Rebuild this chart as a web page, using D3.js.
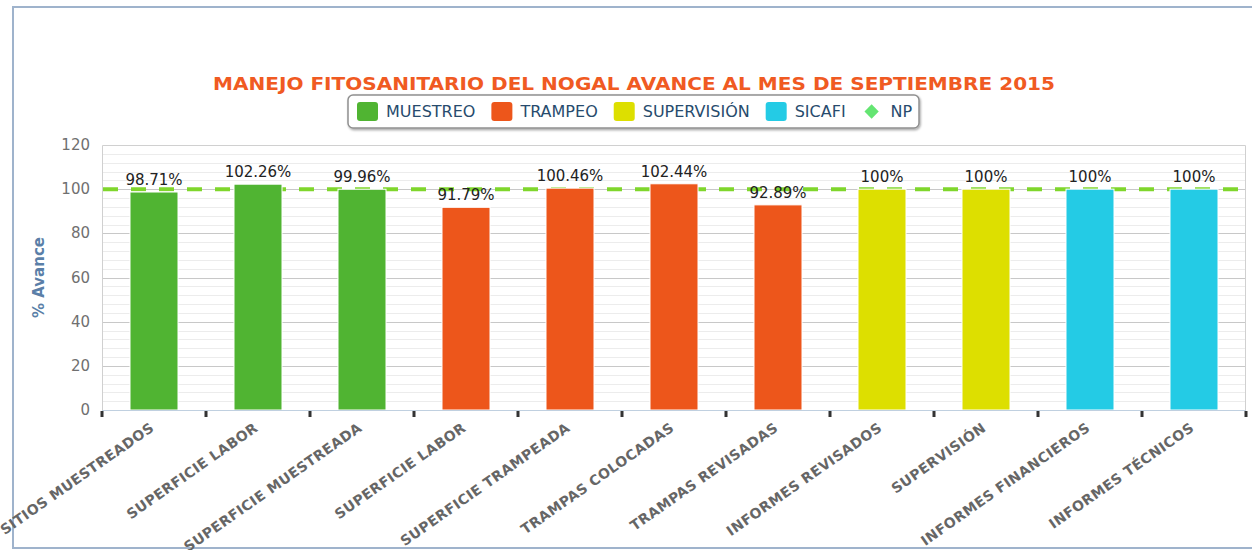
<!DOCTYPE html>
<html>
<head>
<meta charset="utf-8">
<script src="https://cdn.jsdelivr.net/npm/d3@7"></script>
<style>
  body { margin: 0; background: #fff; }
  svg { display: block; font-family: 'DejaVu Sans', Verdana, sans-serif; }
</style>
</head>
<body>
<svg id="chart" width="1252" height="550"></svg>
<script>
// data
const categories = ['SITIOS MUESTREADOS', 'SUPERFICIE LABOR', 'SUPERFICIE MUESTREADA', 'SUPERFICIE LABOR',
  'SUPERFICIE TRAMPEADA', 'TRAMPAS COLOCADAS', 'TRAMPAS REVISADAS', 'INFORMES REVISADOS',
  'SUPERVISIÓN', 'INFORMES FINANCIEROS', 'INFORMES TÉCNICOS']
const values = [98.71, 102.26, 99.96, 91.79, 100.46, 102.44, 92.89, 100, 100, 100, 100]
const labels = ['98.71%', '102.26%', '99.96%', '91.79%', '100.46%', '102.44%', '92.89%', '100%', '100%', '100%', '100%']
const seriesNames = ['MUESTREO', 'TRAMPEO', 'SUPERVISIÓN', 'SICAFI', 'NP']
const seriesOf = [0, 0, 0, 1, 1, 1, 1, 2, 2, 3, 3]
const npValue = 100
const yTicks = [0, 20, 40, 60, 80, 100, 120]
const colors = ['#50b432', '#ed561b', '#dddf00', '#24cbe5', '#64e572']

const svg = d3.select('#chart')
const plot = { left: 102, top: 145, right: 1246, bottom: 410 }

// outer frame
svg.append('rect')
  .attr('x', 13).attr('y', 7).attr('width', 1252).attr('height', 541)
  .attr('fill', '#fff').attr('stroke', '#9fb3cc').attr('stroke-width', 2)

const x = d3.scaleBand().domain(d3.range(categories.length)).range([plot.left, plot.right]).paddingInner(0).paddingOuter(0)
const y = d3.scaleLinear().domain([0, 120]).range([plot.bottom, plot.top])

// minor grid
svg.append('g').selectAll('line')
  .data(d3.range(0, 121, 4).filter(v => v % 20 !== 0))
  .join('line')
  .attr('x1', plot.left).attr('x2', plot.right)
  .attr('y1', d => Math.round(y(d)) + 0.5).attr('y2', d => Math.round(y(d)) + 0.5)
  .attr('stroke', '#ececec').attr('stroke-width', 1)

// major grid
svg.append('g').selectAll('line')
  .data(yTicks.filter(v => v > 0 && v < 120))
  .join('line')
  .attr('x1', plot.left).attr('x2', plot.right)
  .attr('y1', d => Math.round(y(d)) + 0.5).attr('y2', d => Math.round(y(d)) + 0.5)
  .attr('stroke', '#c8c8c8').attr('stroke-width', 1)

// plot border (top, left, right)
svg.append('path')
  .attr('d', `M${plot.left + 0.5},${plot.bottom}V${plot.top + 0.5}H${plot.right - 0.5}V${plot.bottom}`)
  .attr('fill', 'none').attr('stroke', '#d0d0d0').attr('stroke-width', 1)

// NP dashed line (behind bars)
svg.append('line')
  .attr('x1', plot.left + 1).attr('x2', plot.right - 1)
  .attr('y1', y(npValue)).attr('y2', y(npValue))
  .attr('stroke', '#7fd62c').attr('stroke-width', 4)
  .attr('stroke-dasharray', '15,13')

// bars
const barW = 48
svg.append('g').selectAll('rect')
  .data(values)
  .join('rect')
  .attr('x', (d, i) => x(i) + x.bandwidth() / 2 - barW / 2)
  .attr('y', d => y(d))
  .attr('width', barW)
  .attr('height', d => plot.bottom - y(d))
  .attr('fill', (d, i) => colors[seriesOf[i]])
  .attr('stroke', '#fff').attr('stroke-width', 1)

// data labels
svg.append('g').selectAll('text')
  .data(values)
  .join('text')
  .attr('x', (d, i) => x(i) + x.bandwidth() / 2)
  .attr('y', d => y(d) - 7)
  .attr('text-anchor', 'middle')
  .attr('font-size', 15)
  .attr('fill', '#222')
  .text((d, i) => labels[i])

// x axis line + ticks
svg.append('line')
  .attr('x1', plot.left).attr('x2', plot.right)
  .attr('y1', plot.bottom + 0.5).attr('y2', plot.bottom + 0.5)
  .attr('stroke', '#c0d0e0').attr('stroke-width', 1)
svg.append('g').selectAll('rect')
  .data(d3.range(categories.length + 1))
  .join('rect')
  .attr('x', d => (d < categories.length ? x(d) : plot.right) - 1.5)
  .attr('y', plot.bottom + 1)
  .attr('width', 3).attr('height', 6)
  .attr('fill', '#333')

// x labels
svg.append('g').selectAll('text')
  .data(categories)
  .join('text')
  .attr('transform', (d, i) => `translate(${x(i) + x.bandwidth() / 2 + 1},${plot.bottom + 20}) rotate(-35)`)
  .attr('text-anchor', 'end')
  .attr('font-size', 14)
  .attr('font-weight', 'bold')
  .attr('letter-spacing', 0.4)
  .attr('fill', '#666')
  .text(d => d)

// y axis labels
svg.append('g').selectAll('text')
  .data(yTicks)
  .join('text')
  .attr('x', 90)
  .attr('y', d => y(d) + 5)
  .attr('text-anchor', 'end')
  .attr('font-size', 15)
  .attr('fill', '#707070')
  .text(d => d)

// y axis title
svg.append('text')
  .attr('transform', `translate(44,${(plot.top + plot.bottom) / 2}) rotate(-90)`)
  .attr('text-anchor', 'middle')
  .attr('font-size', 15)
  .attr('font-weight', 'bold')
  .attr('fill', '#5a7fa8')
  .text('% Avance')

// title
svg.append('text')
  .attr('x', 634).attr('y', 90)
  .attr('text-anchor', 'middle')
  .attr('font-size', 17)
  .attr('font-weight', 'bold')
  .attr('fill', '#f05a22')
  .attr('textLength', 842)
  .attr('lengthAdjust', 'spacingAndGlyphs')
  .text('MANEJO FITOSANITARIO DEL NOGAL AVANCE AL MES DE SEPTIEMBRE 2015')

// legend
const legend = svg.append('g')
const defs = svg.append('defs')
const f = defs.append('filter').attr('id', 'shadow').attr('x', '-5%').attr('y', '-20%').attr('width', '110%').attr('height', '150%')
f.append('feDropShadow').attr('dx', 1).attr('dy', 1.5).attr('stdDeviation', 1.2).attr('flood-color', '#000').attr('flood-opacity', 0.35)
legend.append('rect')
  .attr('x', 348).attr('y', 95).attr('width', 571).attr('height', 33)
  .attr('rx', 5).attr('fill', '#fff').attr('stroke', '#909090').attr('stroke-width', 1.5)
  .attr('filter', 'url(#shadow)')
let lx = 357
seriesNames.forEach((name, i) => {
  const g = legend.append('g')
  if (i < 4) {
    g.append('rect').attr('x', lx).attr('y', 102).attr('width', 21).attr('height', 19).attr('rx', 3)
      .attr('fill', colors[i])
  } else {
    g.append('path')
      .attr('d', d3.symbol(d3.symbolDiamond2, 130)())
      .attr('transform', `translate(${lx + 10},${111.5})`)
      .attr('fill', colors[i])
  }
  const t = g.append('text').attr('x', lx + 29).attr('y', 117).attr('font-size', 16).attr('fill', '#274b6d').text(name)
  lx += 29 + t.node().getComputedTextLength() + 16
})
</script>
</body>
</html>
